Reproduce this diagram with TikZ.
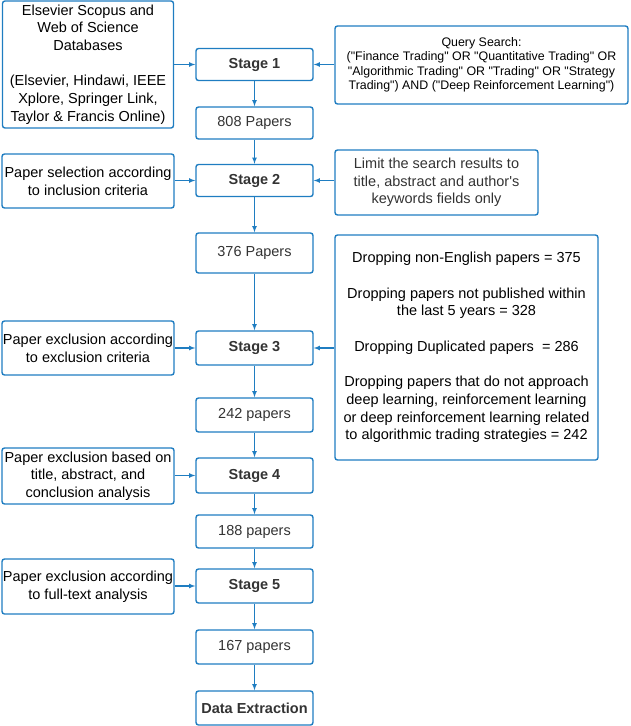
\documentclass[tikz,border=0pt]{standalone}
\usepackage{fontspec}
\setmainfont{Liberation Sans}
\usetikzlibrary{arrows}

\definecolor{flowblue}{HTML}{1F7DC1}
\definecolor{flowtext}{HTML}{333333}

\newcommand{\qq}[1]{\textquotedbl#1\textquotedbl}

\tikzset{
  box/.style={draw=flowblue, line width=1.4pt, rounded corners=2.5pt, align=center,
    inner sep=0pt, text=flowtext, font=\fontsize{14.5}{17.7}\selectfont},
  colbox/.style={box, minimum width=117pt},
  stagebox/.style={colbox, font=\fontsize{14.5}{17.7}\selectfont\bfseries},
  sidebox/.style={box, text=black},
  link/.style={-latex, draw=flowblue, line width=1.1pt},
}

\begin{document}
\begin{tikzpicture}[x=1pt, y=-1pt]
    \useasboundingbox (0,0) rectangle (630,726);
    \def\cx{254.5}
    \def\lx{88}
    % centre column
    \node[stagebox, minimum height=32pt] (stage1) at (\cx,64.5) {Stage 1};
    \node[colbox, minimum height=32pt] (p808) at (\cx,123) {808 Papers};
    \node[stagebox, minimum height=32pt] (stage2) at (\cx,180.5) {Stage 2};
    \node[colbox, minimum height=40pt] (p376) at (\cx,253) {376 Papers};
    \node[stagebox, minimum height=34pt] (stage3) at (\cx,348) {Stage 3};
    \node[colbox, minimum height=34pt] (p242) at (\cx,415) {242 papers};
    \node[stagebox, minimum height=35pt] (stage4) at (\cx,475.5) {Stage 4};
    \node[colbox, minimum height=33pt] (p188) at (\cx,531.5) {188 papers};
    \node[stagebox, minimum height=34pt] (stage5) at (\cx,586) {Stage 5};
    \node[colbox, minimum height=34pt] (p167) at (\cx,647) {167 papers};
    \node[stagebox, minimum height=34pt] (extract) at (\cx,708) {Data Extraction};
    % left side
    \node[sidebox, minimum width=171pt, minimum height=127pt] (source) at (\lx,64.5)
      {Elsevier Scopus and\\Web of Science\\Databases\\[17.7pt](Elsevier, Hindawi, IEEE\\Xplore, Springer Link,\\Taylor \& Francis Online)};
    \node[sidebox, minimum width=172pt, minimum height=54pt] (incl) at (\lx,181)
      {Paper selection according\\to inclusion criteria};
    \node[sidebox, minimum width=172pt, minimum height=54pt] (excl) at (\lx,348)
      {Paper exclusion according\\to exclusion criteria};
    \node[sidebox, minimum width=172pt, minimum height=56pt] (tac) at (\lx,476)
      {Paper exclusion based on\\title, abstract, and\\conclusion analysis};
    \node[sidebox, minimum width=172pt, minimum height=55pt] (fulltext) at (\lx,586.5)
      {Paper exclusion according\\to full-text analysis};
    % right side
    \node[sidebox, minimum width=293pt, minimum height=78pt, font=\fontsize{12.4}{14.5}\selectfont] (query) at (481.5,65)
      {Query Search:\\(\qq{Finance Trading} OR \qq{Quantitative Trading} OR\\\qq{Algorithmic Trading} OR \qq{Trading} OR \textquotedbl Strategy\\Trading\textquotedbl) AND (\qq{Deep Reinforcement Learning})};
    \node[box, minimum width=203pt, minimum height=65pt] (limit) at (436.5,182.5)
      {Limit the search results to\\title, abstract and author\textquotesingle s\\keywords fields only};
    \node[sidebox, minimum width=263pt, minimum height=225pt] (drop) at (466.5,347.5)
      {Dropping non-English papers = 375\\[17.7pt]Dropping papers not published within\\the last 5 years = 328\\[17.7pt]Dropping Duplicated papers~ = 286\\[17.7pt]Dropping papers that do not approach\\deep learning, reinforcement learning\\or deep reinforcement learning related\\to algorithmic trading strategies = 242};
    % arrows
    \draw[link] (stage1) -- (p808);
    \draw[link] (p808) -- (stage2);
    \draw[link] (stage2) -- (p376);
    \draw[link] (p376) -- (stage3);
    \draw[link] (stage3) -- (p242);
    \draw[link] (p242) -- (stage4);
    \draw[link] (stage4) -- (p188);
    \draw[link] (p188) -- (stage5);
    \draw[link] (stage5) -- (p167);
    \draw[link] (p167) -- (extract);
    \draw[link] (source.east |- stage1) -- (stage1.west);
    \draw[link] (incl.east |- stage2) -- (stage2.west);
    \draw[link] (excl.east |- stage3) -- (stage3.west);
    \draw[link] (tac.east |- stage4) -- (stage4.west);
    \draw[link] (fulltext.east |- stage5) -- (stage5.west);
    \draw[link] (query.west |- stage1) -- (stage1.east);
    \draw[link] (limit.west |- stage2) -- (stage2.east);
    \draw[link] (drop.west |- stage3) -- (stage3.east);
  \end{tikzpicture}
\end{document}
